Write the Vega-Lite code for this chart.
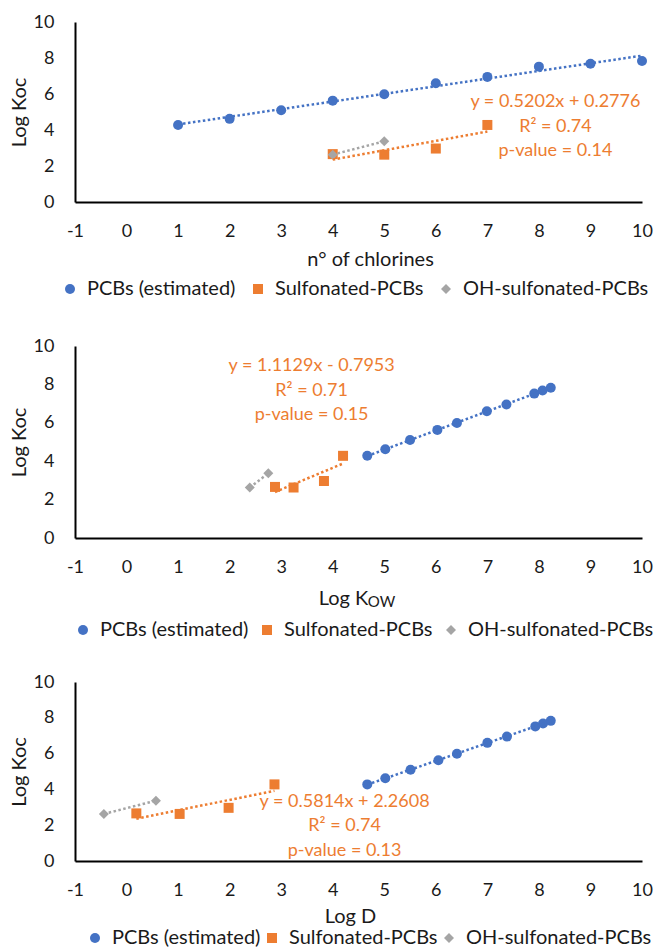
{
  "$schema": "https://vega.github.io/schema/vega-lite/v6.json",
  "padding": {"left": 9, "top": 13, "right": 0, "bottom": 0},
  "background": "white",
  "bounds": "flush",
  "spacing": 144,
  "config": {
    "view": {"stroke": null},
    "font": "Lato",
    "axis": {
      "grid": false,
      "ticks": false,
      "tickSize": 0,
      "labelOverlap": false,
      "labelBound": false,
      "labelFlush": false,
      "domainColor": "#000000",
      "domainWidth": 2,
      "labelFontSize": 18,
      "labelColor": "#1a1a1a",
      "labelFont": "Lato",
      "labelExpr": "replace(datum.label, '−', '-')",
      "titleFont": "Lato",
      "titleFontSize": 20,
      "titleFontWeight": "normal",
      "titleColor": "#1a1a1a"
    },
    "axisY": {"labelPadding": 21, "titlePadding": 4, "tickCount": 12},
    "axisX": {"labelPadding": 20, "tickCount": 12},
    "legend": {
      "orient": "none",
      "direction": "horizontal",
      "labelFontSize": 20,
      "labelFont": "Lato",
      "labelColor": "#1a1a1a",
      "labelLimit": 400,
      "symbolSize": 100,
      "symbolStrokeWidth": 0,
      "labelOffset": 7,
      "padding": 0,
      "title": null
    }
  },
  "data": {
    "values": [
      {"series": "PCBs (estimated)", "n_cl": 1, "log_kow": 4.67, "log_d": 4.67, "log_koc": 4.28},
      {"series": "PCBs (estimated)", "n_cl": 2, "log_kow": 5.02, "log_d": 5.02, "log_koc": 4.62},
      {"series": "PCBs (estimated)", "n_cl": 3, "log_kow": 5.50, "log_d": 5.51, "log_koc": 5.10},
      {"series": "PCBs (estimated)", "n_cl": 4, "log_kow": 6.03, "log_d": 6.05, "log_koc": 5.63},
      {"series": "PCBs (estimated)", "n_cl": 5, "log_kow": 6.41, "log_d": 6.41, "log_koc": 5.99},
      {"series": "PCBs (estimated)", "n_cl": 6, "log_kow": 6.99, "log_d": 7.00, "log_koc": 6.60},
      {"series": "PCBs (estimated)", "n_cl": 7, "log_kow": 7.37, "log_d": 7.38, "log_koc": 6.95},
      {"series": "PCBs (estimated)", "n_cl": 8, "log_kow": 7.91, "log_d": 7.93, "log_koc": 7.52},
      {"series": "PCBs (estimated)", "n_cl": 9, "log_kow": 8.07, "log_d": 8.08, "log_koc": 7.68},
      {"series": "PCBs (estimated)", "n_cl": 10, "log_kow": 8.23, "log_d": 8.23, "log_koc": 7.83},
      {"series": "Sulfonated-PCBs", "n_cl": 4, "log_kow": 2.88, "log_d": 0.19, "log_koc": 2.66},
      {"series": "Sulfonated-PCBs", "n_cl": 5, "log_kow": 3.24, "log_d": 1.03, "log_koc": 2.63},
      {"series": "Sulfonated-PCBs", "n_cl": 6, "log_kow": 3.83, "log_d": 1.98, "log_koc": 2.97},
      {"series": "Sulfonated-PCBs", "n_cl": 7, "log_kow": 4.20, "log_d": 2.87, "log_koc": 4.28},
      {"series": "OH-sulfonated-PCBs", "n_cl": 4, "log_kow": 2.39, "log_d": -0.44, "log_koc": 2.63},
      {"series": "OH-sulfonated-PCBs", "n_cl": 5, "log_kow": 2.75, "log_d": 0.57, "log_koc": 3.37}
    ]
  },
  "vconcat": [
    {
      "width": 567,
      "height": 180,
      "layer": [
        {
          "mark": {"type": "point", "filled": true, "size": 100, "opacity": 1},
          "encoding": {
            "x": {"field": "n_cl", "type": "quantitative", "scale": {"domain": [-1, 10], "nice": false, "zero": false},
                  "axis": {"title": "n° of chlorines", "values": [-1, 0, 1, 2, 3, 4, 5, 6, 7, 8, 9, 10], "tickCount": 12, "labelFlush": false, "titlePadding": 9, "titleX": 295}},
            "y": {"field": "log_koc", "type": "quantitative", "scale": {"domain": [0, 10], "nice": false},
                  "axis": {"title": "Log Koc", "values": [0, 2, 4, 6, 8, 10], "tickCount": 12}},
            "color": {"field": "series", "type": "nominal",
                      "scale": {"domain": ["PCBs (estimated)", "Sulfonated-PCBs", "OH-sulfonated-PCBs"], "range": ["#4472C4", "#ED7D31", "#A5A5A5"]},
                      "legend": {"orient": "none", "direction": "horizontal", "legendX": -15, "legendY": 257, "columnPadding": 12}},
            "shape": {"field": "series", "type": "nominal",
                      "scale": {"domain": ["PCBs (estimated)", "Sulfonated-PCBs", "OH-sulfonated-PCBs"], "range": ["circle", "square", "diamond"]},
                      "legend": {"orient": "none", "direction": "horizontal", "legendX": -15, "legendY": 257, "columnPadding": 12}}
          }
        },
        {
          "transform": [{"regression": "log_koc", "on": "n_cl", "groupby": ["series"]}],
          "mark": {"type": "line", "strokeDash": [2.5, 2.5], "strokeWidth": 2.5},
          "encoding": {
            "x": {"field": "n_cl", "type": "quantitative"},
            "y": {"field": "log_koc", "type": "quantitative"},
            "color": {"field": "series", "type": "nominal"}
          }
        },
        {
          "data": {"values": [{}]},
          "mark": {"type": "text", "text": ["y = 0.5202x + 0.2776", "R² = 0.74", "p-value = 0.14"], "color": "#ED7D31", "fontSize": 18, "lineHeight": 24.5, "align": "center", "baseline": "middle"},
          "encoding": {"x": {"datum": 8.32}, "y": {"datum": 5.55}}
        }
      ]
    },
    {
      "width": 567,
      "height": 192,
      "layer": [
        {
          "mark": {"type": "point", "filled": true, "size": 100, "opacity": 1},
          "encoding": {
            "x": {"field": "log_kow", "type": "quantitative", "scale": {"domain": [-1, 10], "nice": false, "zero": false},
                  "axis": {"title": "Log K", "values": [-1, 0, 1, 2, 3, 4, 5, 6, 7, 8, 9, 10], "tickCount": 12, "labelFlush": false, "titlePadding": 12, "titleX": 268}},
            "y": {"field": "log_koc", "type": "quantitative", "scale": {"domain": [0, 10], "nice": false},
                  "axis": {"title": "Log Koc", "values": [0, 2, 4, 6, 8, 10], "tickCount": 12}},
            "color": {"field": "series", "type": "nominal",
                      "scale": {"domain": ["PCBs (estimated)", "Sulfonated-PCBs", "OH-sulfonated-PCBs"], "range": ["#4472C4", "#ED7D31", "#A5A5A5"]},
                      "legend": {"orient": "none", "direction": "horizontal", "legendX": -2, "legendY": 274, "columnPadding": 8}},
            "shape": {"field": "series", "type": "nominal",
                      "scale": {"domain": ["PCBs (estimated)", "Sulfonated-PCBs", "OH-sulfonated-PCBs"], "range": ["circle", "square", "diamond"]},
                      "legend": {"orient": "none", "direction": "horizontal", "legendX": -2, "legendY": 274, "columnPadding": 8}}
          }
        },
        {
          "transform": [{"regression": "log_koc", "on": "log_kow", "groupby": ["series"]}],
          "mark": {"type": "line", "strokeDash": [2.5, 2.5], "strokeWidth": 2.5},
          "encoding": {
            "x": {"field": "log_kow", "type": "quantitative"},
            "y": {"field": "log_koc", "type": "quantitative"},
            "color": {"field": "series", "type": "nominal"}
          }
        },
        {
          "data": {"values": [{}]},
          "mark": {"type": "text", "text": ["y = 1.1129x - 0.7953", "R² = 0.71", "p-value = 0.15"], "color": "#ED7D31", "fontSize": 18, "lineHeight": 24.5, "align": "center", "baseline": "middle"},
          "encoding": {"x": {"datum": 3.59}, "y": {"datum": 8.95}}
        },
        {
          "data": {"values": [{}]},
          "mark": {"type": "text", "text": "OW", "color": "#1a1a1a", "fontSize": 15, "align": "left", "baseline": "middle"},
          "encoding": {"x": {"datum": 4.68}, "y": {"datum": -3.33}}
        }
      ]
    },
    {
      "width": 567,
      "height": 179,
      "layer": [
        {
          "mark": {"type": "point", "filled": true, "size": 100, "opacity": 1},
          "encoding": {
            "x": {"field": "log_d", "type": "quantitative", "scale": {"domain": [-1, 10], "nice": false, "zero": false},
                  "axis": {"title": "Log D", "values": [-1, 0, 1, 2, 3, 4, 5, 6, 7, 8, 9, 10], "tickCount": 12, "labelFlush": false, "titlePadding": 7, "titleX": 275}},
            "y": {"field": "log_koc", "type": "quantitative", "scale": {"domain": [0, 10], "nice": false},
                  "axis": {"title": "Log Koc", "values": [0, 2, 4, 6, 8, 10], "tickCount": 12}},
            "color": {"field": "series", "type": "nominal",
                      "scale": {"domain": ["PCBs (estimated)", "Sulfonated-PCBs", "OH-sulfonated-PCBs"], "range": ["#4472C4", "#ED7D31", "#A5A5A5"]},
                      "legend": {"orient": "none", "direction": "horizontal", "legendX": 10, "legendY": 246, "columnPadding": 1}},
            "shape": {"field": "series", "type": "nominal",
                      "scale": {"domain": ["PCBs (estimated)", "Sulfonated-PCBs", "OH-sulfonated-PCBs"], "range": ["circle", "square", "diamond"]},
                      "legend": {"orient": "none", "direction": "horizontal", "legendX": 10, "legendY": 246, "columnPadding": 1}}
          }
        },
        {
          "transform": [{"regression": "log_koc", "on": "log_d", "groupby": ["series"]}],
          "mark": {"type": "line", "strokeDash": [2.5, 2.5], "strokeWidth": 2.5},
          "encoding": {
            "x": {"field": "log_d", "type": "quantitative"},
            "y": {"field": "log_koc", "type": "quantitative"},
            "color": {"field": "series", "type": "nominal"}
          }
        },
        {
          "data": {"values": [{}]},
          "mark": {"type": "text", "text": ["y = 0.5814x + 2.2608", "R² = 0.74", "p-value = 0.13"], "color": "#ED7D31", "fontSize": 18, "lineHeight": 24.5, "align": "center", "baseline": "middle"},
          "encoding": {"x": {"datum": 4.23}, "y": {"datum": 3.3}}
        }
      ]
    }
  ],
  "resolve": {"scale": {"color": "independent", "shape": "independent", "x": "independent", "y": "independent"}, "legend": {"color": "independent", "shape": "independent"}}
}
